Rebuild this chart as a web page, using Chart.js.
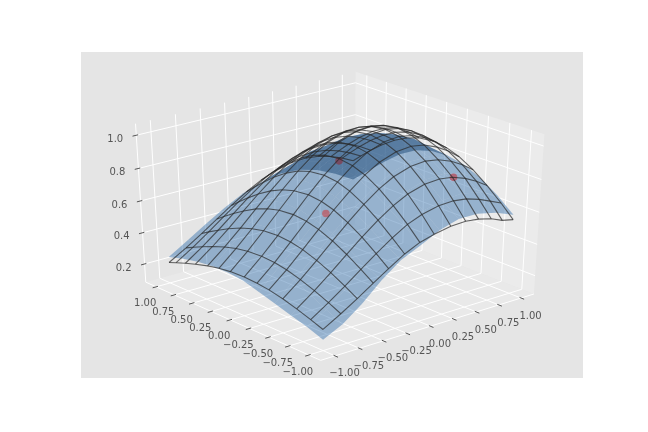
<!DOCTYPE html>
<html>
<head>
<meta charset="utf-8">
<style>
  body { margin: 0; background: #fff; }
  canvas { display: block; }
</style>
<script src="https://cdn.jsdelivr.net/npm/chart.js@4"></script>
</head>
<body>
<canvas id="surface-chart" width="648" height="432"></canvas>
<script>
// wire lines
const wireU = [-1, -0.818, -0.65, -0.486, -0.329, -0.164, -0.007, 0.143, 0.318, 0.476, 0.615, 0.755, 0.878, 1];
const wireV = [-1, -0.849, -0.676, -0.503, -0.33, -0.179, -0.015, 0.166, 0.317, 0.469, 0.633, 0.771, 0.901, 1];

// black wireframe, one row per wireU value
const wireZ = [
  [.214, .242, .271, .297, .316, .326, .331, .327, .317, .301, .278, .256, .233, .214],
  [.278, .314, .352, .384, .409, .423, .429, .424, .411, .390, .360, .331, .302, .278],
  [.342, .387, .434, .474, .505, .522, .529, .523, .506, .481, .444, .408, .372, .342],
  [.408, .461, .517, .565, .602, .622, .631, .623, .604, .574, .530, .487, .444, .408],
  [.470, .531, .596, .651, .694, .717, .727, .718, .696, .661, .611, .561, .511, .470],
  [.531, .599, .672, .735, .782, .809, .820, .810, .785, .745, .689, .633, .576, .531],
  [.575, .655, .735, .803, .855, .883, .896, .885, .857, .814, .753, .692, .630, .580],
  [.600, .690, .781, .853, .908, .939, .952, .941, .911, .865, .800, .735, .669, .616],
  [.620, .715, .813, .888, .945, .977, .991, .979, .948, .901, .832, .765, .697, .641],
  [.625, .720, .820, .896, .954, .986, 1.00, .988, .957, .909, .840, .772, .703, .647],
  [.615, .710, .809, .883, .941, .972, .986, .974, .944, .896, .828, .761, .693, .638],
  [.595, .685, .781, .853, .908, .939, .952, .941, .911, .865, .800, .735, .669, .616],
  [.565, .655, .745, .814, .866, .895, .908, .897, .869, .825, .763, .701, .638, .587],
  [.550, .624, .699, .764, .814, .841, .853, .843, .816, .775, .717, .659, .600, .552],
];

// blue surface
const surfaceU = [-1, -0.8, -0.6, -0.4, -0.2, 0, 0.2, 0.4, 0.6, 0.8, 1];
const surfaceV = [-1, -0.8, -0.6, -0.4, -0.2, 0, 0.2, 0.4, 0.6, 0.8, 1];
const surfaceZ = [
  [.150, .186, .215, .245, .275, .304, .314, .313, .301, .279, .250],
  [.209, .257, .310, .355, .390, .407, .417, .413, .394, .362, .322],
  [.300, .350, .410, .460, .500, .522, .531, .521, .493, .450, .396],
  [.410, .460, .520, .575, .615, .641, .646, .629, .590, .535, .467],
  [.500, .560, .625, .685, .730, .752, .753, .727, .677, .608, .527],
  [.555, .640, .710, .775, .825, .845, .839, .803, .742, .661, .568],
  [.615, .695, .775, .845, .895, .925, .915, .870, .800, .700, .590],
  [.650, .725, .815, .885, .930, .960, .945, .890, .805, .700, .585],
  [.650, .735, .820, .885, .925, .950, .925, .865, .775, .665, .553],
  [.625, .712, .790, .848, .878, .893, .862, .800, .712, .605, .498],
  [.580, .662, .728, .775, .795, .790, .760, .700, .615, .523, .430],
];

// sample points
const sampleU = [-0.36, 0.66, 0.8];
const sampleV = [-0.27, -0.64, 0.95];
const sampleZ = [0.666, 0.795, 0.59];
const sampleColors = ["rgba(202, 63, 69, 0.6)", "rgba(194, 50, 60, 0.6)", "rgba(153, 25, 35, 0.5)"];

const uvTicks = [-1, -0.75, -0.5, -0.25, 0, 0.25, 0.5, 0.75, 1];
const uvTickLabels = ["\u22121.00", "\u22120.75", "\u22120.50", "\u22120.25", "0.00", "0.25", "0.50", "0.75", "1.00"];
const zTicks = [0.2, 0.4, 0.6, 0.8, 1.0];
const zTickLabels = ["0.2", "0.4", "0.6", "0.8", "1.0"];

const uvLimit = 1.1;
const zLow = 0.101;
const zHigh = 1.049;
const paneU = uvLimit * (1 + 1 / 24);
const paneLow = zLow - (zHigh - zLow) / 48;
const paneHigh = zHigh + (zHigh - zLow) / 48;
const tickStep = (2 * uvLimit) / 12;

const elev = (30 * Math.PI) / 180;
const azim = (-130 * Math.PI) / 180;
const eyeDist = 10;

// perspective camera, returns coordinates on the flat x/y scales
function project(u, v, z) {
  const dx = (u + uvLimit) / (2 * uvLimit) - 0.5;
  const dy = (v + uvLimit) / (2 * uvLimit) - 0.5;
  const dz = (z - zLow) / (zHigh - zLow) - 0.5;
  const side = -Math.sin(azim) * dx + Math.cos(azim) * dy;
  const along = Math.cos(azim) * dx + Math.sin(azim) * dy;
  const up = Math.cos(elev) * dz - Math.sin(elev) * along;
  const depth = Math.cos(elev) * along + Math.sin(elev) * dz;
  const f = 1 / (eyeDist - depth);
  return { x: side * f, y: up * f };
}

function lineSet(points, color, width) {
  return {
    data: points.map((p) => project(p[0], p[1], p[2])),
    showLine: true,
    pointRadius: 0,
    borderColor: color,
    borderWidth: width,
    tension: 0,
    fill: false,
  };
}

function polySet(points, color) {
  const d = lineSet(points, "transparent", 1);
  d.fill = "shape";
  d.backgroundColor = color;
  return d;
}

// cells that turn their back to the camera sit on the far slope
function facesAway(points) {
  const p = points.map((q) => project(q[0], q[1], q[2]));
  let area = 0;
  p.forEach((a, i) => {
    const b = p[(i + 1) % p.length];
    area += a.x * b.y - b.x * a.y;
  });
  return area < 0;
}

const layers = [];

// panes
layers.push(polySet([[paneU, -paneU, paneLow], [paneU, paneU, paneLow], [paneU, paneU, paneHigh], [paneU, -paneU, paneHigh]], "#ebebeb"));
layers.push(polySet([[-paneU, -paneU, paneLow], [paneU, -paneU, paneLow], [paneU, paneU, paneLow], [-paneU, paneU, paneLow]], "#e9e9e9"));

// grid lines
uvTicks.forEach((t) => {
  layers.push(lineSet([[t, -paneU, paneLow], [t, paneU, paneLow], [t, paneU, paneHigh]], "#ffffff", 1));
  layers.push(lineSet([[-paneU, t, paneLow], [paneU, t, paneLow], [paneU, t, paneHigh]], "#ffffff", 1));
});
zTicks.forEach((t) => {
  layers.push(lineSet([[-paneU, paneU, t], [paneU, paneU, t], [paneU, -paneU, t]], "#ffffff", 1));
});

// outer axis lines
layers.push(lineSet([[paneU, -paneU, paneLow], [-paneU, -paneU, paneLow], [-paneU, paneU, paneLow], [-paneU, paneU, paneHigh]], "#ffffff", 1));

// tick marks
uvTicks.forEach((t) => {
  layers.push(lineSet([[t, -paneU + 0.1 * tickStep, paneLow], [t, -paneU - 0.2 * tickStep, paneLow]], "#555555", 1));
  layers.push(lineSet([[-paneU + 0.1 * tickStep, t, paneLow], [-paneU - 0.2 * tickStep, t, paneLow]], "#555555", 1));
});
zTicks.forEach((t) => {
  layers.push(lineSet([[-paneU + 0.1 * tickStep, paneU, t], [-paneU - 0.2 * tickStep, paneU, t]], "#555555", 1));
});

// surface cells, the overlap of the fold gets darker on its own
for (let i = 0; i < surfaceU.length - 1; i++) {
  for (let j = 0; j < surfaceV.length - 1; j++) {
    const cell = [
      [surfaceU[i], surfaceV[j], surfaceZ[i][j]],
      [surfaceU[i + 1], surfaceV[j], surfaceZ[i + 1][j]],
      [surfaceU[i + 1], surfaceV[j + 1], surfaceZ[i + 1][j + 1]],
      [surfaceU[i], surfaceV[j + 1], surfaceZ[i][j + 1]],
    ];
    layers.push(polySet(cell, facesAway(cell) ? "rgba(25, 70, 115, 0.5)" : "rgba(30, 98, 165, 0.41)"));
  }
}

// sample points
sampleU.forEach((u, i) => {
  const d = lineSet([[u, sampleV[i], sampleZ[i]]], "transparent", 1);
  d.showLine = false;
  d.pointRadius = 3.8;
  d.pointBackgroundColor = sampleColors[i];
  d.pointBorderWidth = 0;
  layers.push(d);
});

// wireframe
wireU.forEach((u, i) => {
  layers.push(lineSet(wireV.map((v, j) => [u, v, wireZ[i][j]]), "rgba(40, 40, 40, 0.7)", 1.1));
});
wireV.forEach((v, j) => {
  layers.push(lineSet(wireU.map((u, i) => [u, v, wireZ[i][j]]), "rgba(40, 40, 40, 0.7)", 1.1));
});

// chart.js paints the first dataset last
layers.forEach((d, i) => { d.order = layers.length - i; });

const patchAndLabels = {
  id: "patchAndLabels",
  beforeDatasetsDraw(chart) {
    const { ctx, chartArea } = chart;
    ctx.save();
    ctx.fillStyle = "#e5e5e5";
    ctx.fillRect(chartArea.left, chartArea.top, chartArea.width, chartArea.height);
    ctx.restore();
  },
  afterDatasetsDraw(chart) {
    const { ctx, scales } = chart;
    const put = (text, p, ox, oy) => {
      ctx.fillText(text, scales.x.getPixelForValue(p.x) + ox, scales.y.getPixelForValue(p.y) + oy);
    };
    ctx.save();
    ctx.font = '10px "DejaVu Sans"';
    ctx.fillStyle = "#555555";
    ctx.textAlign = "center";
    ctx.textBaseline = "middle";
    uvTicks.forEach((t, i) => {
      put(uvTickLabels[i], project(t, -paneU, paneLow), 9.5, 18);
      put(uvTickLabels[i], project(-paneU, t, paneLow), -11, 17);
    });
    zTicks.forEach((t, i) => {
      put(zTickLabels[i], project(-paneU, paneU, t), -21, 4);
    });
    ctx.restore();
  },
};

const surfaceChart = new Chart(document.getElementById("surface-chart"), {
  type: "scatter",
  data: { datasets: layers },
  options: {
    responsive: false,
    animation: false,
    layout: { padding: { left: 81, right: 65, top: 52, bottom: 54 } },
    plugins: {
      legend: { display: false },
      tooltip: { enabled: false },
    },
    scales: {
      x: { display: false, min: -0.095, max: 0.09 },
      y: { display: false, min: -0.095, max: 0.09 },
    },
  },
  plugins: [patchAndLabels],
});
</script>
</body>
</html>
